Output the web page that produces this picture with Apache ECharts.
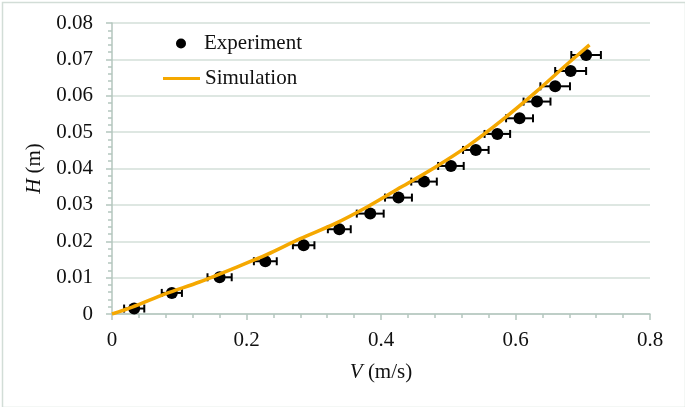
<!DOCTYPE html>
<html>
<head>
<meta charset="utf-8">
<script src="https://cdn.jsdelivr.net/npm/echarts@6/dist/echarts.min.js"></script>
<style>
html,body{margin:0;padding:0;background:#fff;}
#c{width:685px;height:407px;}
</style>
</head>
<body>
<div id="c"></div>
<script>
// Experiment data (V in m/s, H in m) with horizontal error (m/s)
var expV = [0.033, 0.089, 0.160, 0.228, 0.285, 0.338, 0.384, 0.426, 0.464, 0.504, 0.541, 0.573, 0.606, 0.632, 0.659, 0.682, 0.705];
var expH = [0.0015, 0.0058, 0.0101, 0.0145, 0.0189, 0.0233, 0.0276, 0.0320, 0.0364, 0.0407, 0.0451, 0.0495, 0.0538, 0.0584, 0.0626, 0.0668, 0.0712];
var expErr = [0.015, 0.015, 0.018, 0.017, 0.016, 0.017, 0.020, 0.020, 0.019, 0.019, 0.019, 0.019, 0.020, 0.020, 0.022, 0.023, 0.022];
// Simulation curve
var simV = [0, 0.03, 0.08, 0.13, 0.18, 0.23, 0.28, 0.33, 0.38, 0.43, 0.48, 0.53, 0.58, 0.63, 0.68, 0.71];
var simH = [0, 0.0019, 0.0056, 0.0088, 0.0125, 0.0163, 0.0207, 0.0247, 0.0295, 0.0349, 0.0403, 0.0463, 0.0533, 0.0610, 0.0692, 0.0740];
// Tick labels
var xTickLabels = ['0', '0.2', '0.4', '0.6', '0.8'];
var yTickLabels = ['0', '0.01', '0.02', '0.03', '0.04', '0.05', '0.06', '0.07', '0.08'];

var FONT = '"Liberation Serif", "Times New Roman", serif';
var FS = 21;
var AXC = '#b4c6be';
var ORANGE = '#f5a800';

var expData = expV.map(function (v, i) { return [v, expH[i]]; });
var errData = expV.map(function (v, i) { return [v, expH[i], expErr[i]]; });
var simData = simV.map(function (v, i) { return [v, simH[i]]; });

var chart = echarts.init(document.getElementById('c'), null, {renderer: 'canvas'});
chart.setOption({
  animation: false,
  backgroundColor: '#fff',
  textStyle: {fontFamily: FONT},
  graphic: [{
    type: 'rect', left: 0, top: 0, silent: true,
    shape: {x: 0.75, y: 0.75, width: 683, height: 405},
    style: {fill: 'none', stroke: '#d2ddd7', lineWidth: 1.5}
  }],
  grid: {left: 112, right: 35, top: 23, bottom: 93},
  legend: [{
    left: 171, top: 28,
    itemWidth: 10, itemHeight: 10,
    formatter: function (n) { return '{s|}' + n; },
    textStyle: {fontFamily: FONT, fontSize: FS, color: '#111',
      rich: {s: {width: 13}}},
    data: [{name: 'Experiment', icon: 'circle'}]
  }, {
    left: 158, top: 63,
    itemWidth: 37, itemHeight: 3,
    textStyle: {fontFamily: FONT, fontSize: FS, color: '#111'},
    data: [{name: 'Simulation', icon: 'rect'}]
  }],
  xAxis: {
    type: 'value', min: 0, max: 0.8, interval: 0.2,
    name: '{i|V} (m/s)', nameLocation: 'middle', nameGap: 48,
    nameTextStyle: {fontFamily: FONT, fontSize: FS, color: '#111',
      rich: {i: {fontFamily: FONT, fontSize: FS, fontStyle: 'italic', color: '#111'}}},
    axisLine: {show: true, lineStyle: {color: AXC, width: 1.5}},
    axisTick: {show: true, length: 6, lineStyle: {color: AXC, width: 1.5}},
    minorTick: {show: true, splitNumber: 5, length: 4, lineStyle: {color: AXC, width: 1.5}},
    splitLine: {show: false},
    axisLabel: {fontFamily: FONT, fontSize: FS, color: '#111', margin: 16,
      formatter: function (v) { return xTickLabels[Math.round(v / 0.2)]; }}
  },
  yAxis: {
    type: 'value', min: 0, max: 0.08, interval: 0.01,
    name: '{i|H} (m)', nameLocation: 'middle', nameGap: 64,
    nameTextStyle: {fontFamily: FONT, fontSize: FS, color: '#111',
      rich: {i: {fontFamily: FONT, fontSize: FS, fontStyle: 'italic', color: '#111'}}},
    axisLine: {show: true, lineStyle: {color: AXC, width: 1.5}},
    axisTick: {show: true, length: 6, lineStyle: {color: AXC, width: 1.5}},
    minorTick: {show: true, splitNumber: 5, length: 4, lineStyle: {color: AXC, width: 1.5}},
    splitLine: {show: true, lineStyle: {color: '#d3dfd9', width: 1.5}},
    axisLabel: {fontFamily: FONT, fontSize: FS, color: '#111', margin: 19,
      formatter: function (v) { return yTickLabels[Math.round(v / 0.01)]; }}
  },
  series: [
    {
      name: 'ErrorBars', type: 'custom', z: 3,
      data: errData,
      renderItem: function (params, api) {
        var v = api.value(0), h = api.value(1), e = api.value(2);
        var p1 = api.coord([v - e, h]);
        var p2 = api.coord([v + e, h]);
        var cap = 4;
        var st = {stroke: '#000', lineWidth: 2};
        return {
          type: 'group',
          children: [
            {type: 'line', shape: {x1: p1[0], y1: p1[1], x2: p2[0], y2: p2[1]}, style: st},
            {type: 'line', shape: {x1: p1[0], y1: p1[1] - cap, x2: p1[0], y2: p1[1] + cap}, style: st},
            {type: 'line', shape: {x1: p2[0], y1: p2[1] - cap, x2: p2[0], y2: p2[1] + cap}, style: st}
          ]
        };
      }
    },
    {
      name: 'Experiment', type: 'scatter', z: 4,
      symbol: 'circle', symbolSize: 12,
      itemStyle: {color: '#000', opacity: 1},
      data: expData
    },
    {
      name: 'Simulation', type: 'line', z: 5,
      smooth: 0.3, symbol: 'none', showSymbol: false,
      lineStyle: {color: ORANGE, width: 3.5},
      itemStyle: {color: ORANGE},
      data: simData
    }
  ]
});
</script>
</body>
</html>
